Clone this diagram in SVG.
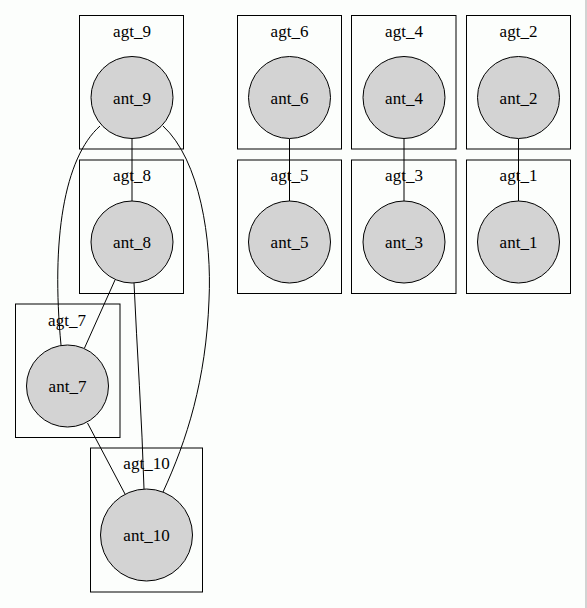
<svg xmlns="http://www.w3.org/2000/svg" width="587" height="608" viewBox="0 0 587 608">
<style>
.bg{fill:#fcfefc}
.cl rect{fill:none;stroke:#000;stroke-width:1}
.nd circle{fill:#d3d3d3;stroke:#000;stroke-width:1}
text{font-family:"Liberation Serif","Times New Roman","DejaVu Serif",serif;font-size:17px;text-anchor:middle;fill:#000}
.ed path,.ed line{fill:none;stroke:#000;stroke-width:1}
</style>
<rect class="bg" x="0" y="0" width="587" height="608"/>
<line x1="586" y1="0" x2="586" y2="608" stroke="#a8a8a8" stroke-width="1"/>
<g id="clusters" class="cl">
<g id="agt_9"><rect x="79.5" y="15.5" width="104" height="133.5"/><text x="132" y="37">agt_9</text></g>
<g id="agt_8"><rect x="79.5" y="160" width="104" height="133.5"/><text x="132" y="181">agt_8</text></g>
<g id="agt_7"><rect x="15.5" y="304" width="104.5" height="133.5"/><text x="67" y="326">agt_7</text></g>
<g id="agt_10"><rect x="90.5" y="448" width="112" height="144"/><text x="146.5" y="469">agt_10</text></g>
<g id="agt_6"><rect x="237.5" y="15.5" width="104" height="133.5"/><text x="289.5" y="37">agt_6</text></g>
<g id="agt_5"><rect x="237.5" y="160" width="104" height="133.5"/><text x="289.5" y="181">agt_5</text></g>
<g id="agt_4"><rect x="351.5" y="15.5" width="104.5" height="133.5"/><text x="404" y="37">agt_4</text></g>
<g id="agt_3"><rect x="351.5" y="160" width="104.5" height="133.5"/><text x="404" y="181">agt_3</text></g>
<g id="agt_2"><rect x="466.5" y="15.5" width="104" height="133.5"/><text x="518.5" y="37">agt_2</text></g>
<g id="agt_1"><rect x="466.5" y="160" width="104" height="133.5"/><text x="518.5" y="181">agt_1</text></g>
</g>
<g id="edges" class="ed">
<line x1="132" y1="139" x2="132" y2="201"/>
<line x1="289.5" y1="139" x2="289.5" y2="201"/>
<line x1="404" y1="139" x2="404" y2="201"/>
<line x1="518.5" y1="139" x2="518.5" y2="201"/>
<path d="M100,126 C64,158 51,240 61,345"/>
<path d="M163,126 C200,160 212,240 209,300 C206,380 187,440 163,492"/>
<line x1="115" y1="280" x2="84.5" y2="348"/>
<path d="M134,283 C137,350 142,420 144,489"/>
<line x1="87.5" y1="423" x2="125" y2="494"/>
</g>
<g id="ant_9" class="nd"><circle cx="132" cy="97.5" r="41"/><text x="132" y="103.5">ant_9</text></g>
<g id="ant_8" class="nd"><circle cx="132" cy="242" r="41"/><text x="132" y="248">ant_8</text></g>
<g id="ant_7" class="nd"><circle cx="67.5" cy="386" r="41"/><text x="67.5" y="392">ant_7</text></g>
<g id="ant_10" class="nd"><circle cx="146.5" cy="535" r="46"/><text x="146.5" y="541">ant_10</text></g>
<g id="ant_6" class="nd"><circle cx="289.5" cy="97.5" r="41"/><text x="289.5" y="103.5">ant_6</text></g>
<g id="ant_5" class="nd"><circle cx="289.5" cy="242" r="41"/><text x="289.5" y="248">ant_5</text></g>
<g id="ant_4" class="nd"><circle cx="404" cy="97.5" r="41"/><text x="404" y="103.5">ant_4</text></g>
<g id="ant_3" class="nd"><circle cx="404" cy="242" r="41"/><text x="404" y="248">ant_3</text></g>
<g id="ant_2" class="nd"><circle cx="518.5" cy="97.5" r="41"/><text x="518.5" y="103.5">ant_2</text></g>
<g id="ant_1" class="nd"><circle cx="518.5" cy="242" r="41"/><text x="518.5" y="248">ant_1</text></g>
</svg>
